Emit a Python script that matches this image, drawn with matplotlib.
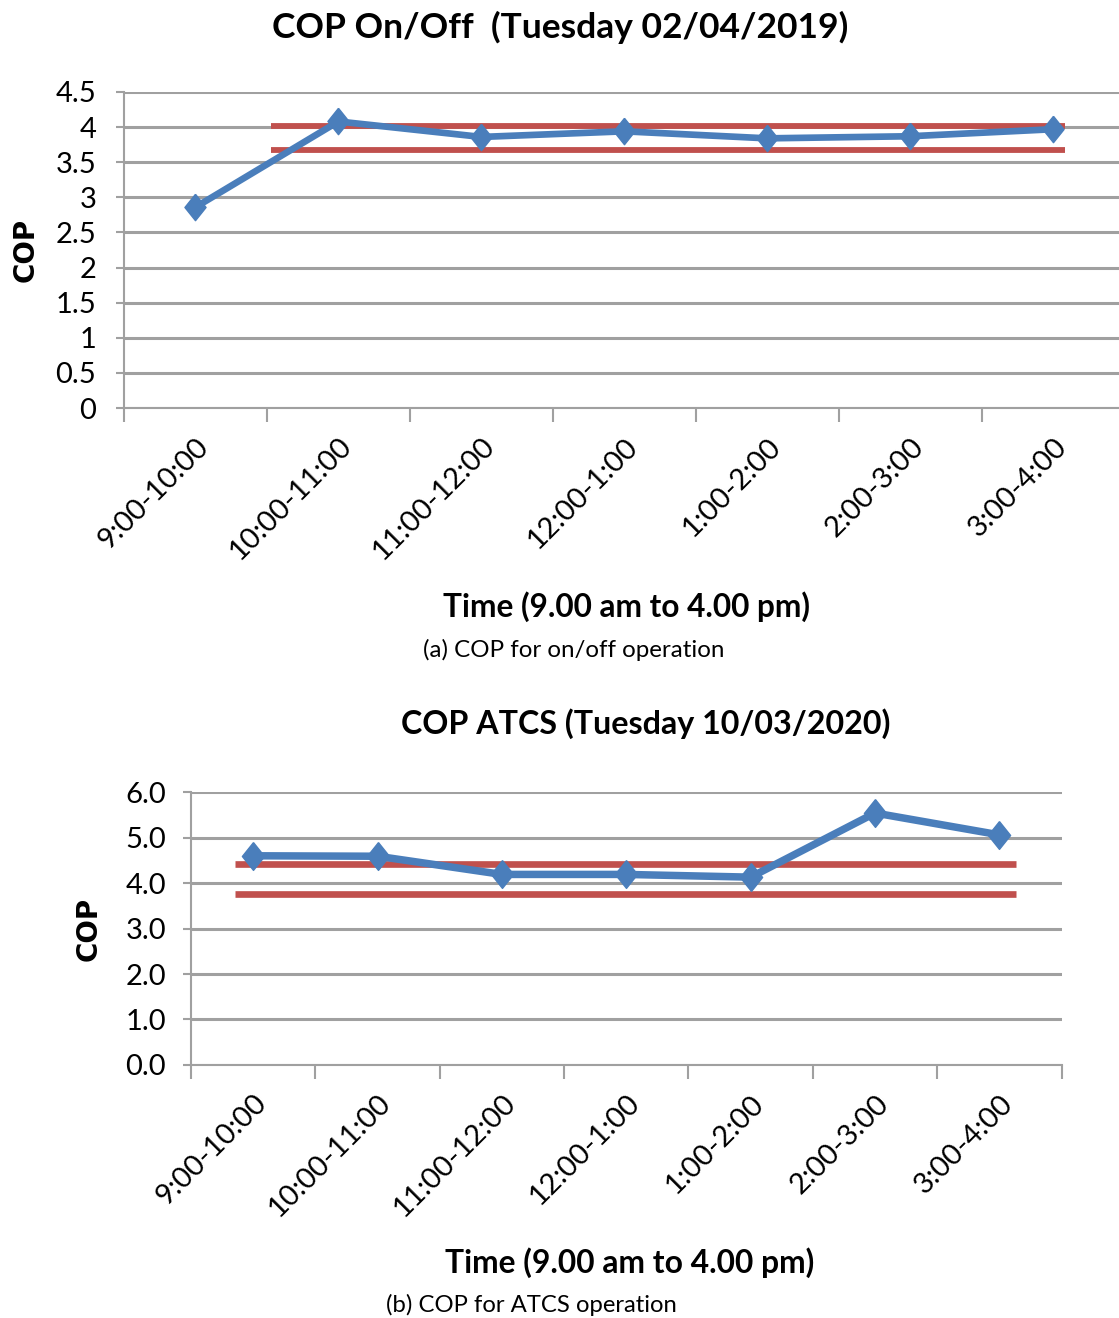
import matplotlib
matplotlib.use("Agg")
import matplotlib.pyplot as plt

# data
slots = ["9:00-10:00", "10:00-11:00", "11:00-12:00", "12:00-1:00",
         "1:00-2:00", "2:00-3:00", "3:00-4:00"]
cop_onoff = [2.86, 4.08, 3.86, 3.94, 3.84, 3.87, 3.97]
cop_atcs = [4.60, 4.59, 4.19, 4.19, 4.13, 5.54, 5.06]
onoff_limits = [4.02, 3.68]
atcs_limits = [4.43, 3.77]
onoff_span = [0.53, 6.08]
atcs_span = [-0.15, 6.13]

plt.rcParams["font.family"] = ["Lato", "DejaVu Sans"]

BLUE = "#4a7ebb"
RED = "#c0504d"
GRID = "#a0a0a0"
DIAMOND = [(0, 1), (0.8, 0), (0, -1), (-0.8, 0), (0, 1)]

fig = plt.figure(figsize=(11.19, 13.18), dpi=100)


def style_axes(ax, ymax, ystep, fmt, ysize, xsize, ypad):
    x = range(len(slots))
    ax.set_ylim(0, ymax)
    ticks = [i * ystep for i in range(int(round(ymax / ystep)) + 1)]
    ax.set_yticks(ticks)
    ax.set_yticklabels([fmt.format(t) for t in ticks], fontsize=ysize)
    ax.yaxis.grid(True, color=GRID, linewidth=2.2)
    ax.set_axisbelow(True)
    for s in ["top", "right"]:
        ax.spines[s].set_visible(False)
    for s in ["left", "bottom"]:
        ax.spines[s].set_color(GRID)
        ax.spines[s].set_linewidth(1.5)
    ax.tick_params(axis="y", length=6, color=GRID, width=1.5, pad=ypad)
    # category boundaries as major ticks, labels on minor ticks
    ax.set_xticks([i - 0.5 for i in range(len(slots) + 1)])
    ax.set_xticklabels([])
    ax.tick_params(axis="x", which="major", length=10, color=GRID, width=1.5)
    ax.set_xticks(list(x), minor=True)
    ax.set_xticklabels(slots, minor=True, rotation=45, ha="right",
                       rotation_mode="anchor", fontsize=xsize)
    ax.tick_params(axis="x", which="minor", length=0, pad=18)


# (a) on/off
ax1 = fig.add_axes([0.1108, 0.6904, 0.8892, 0.2398])
x = list(range(len(slots)))
for lv in onoff_limits:
    ax1.plot(onoff_span, [lv, lv], color=RED, linewidth=4.2, solid_capstyle="butt", zorder=2)
ax1.plot(x, cop_onoff, color=BLUE, linewidth=4.8, marker=DIAMOND, markersize=19,
         markerfacecolor=BLUE, markeredgecolor=BLUE, zorder=3)
style_axes(ax1, 4.5, 0.5, "{:g}", 21, 21, 14)
ax1.set_xlim(-0.5, 6.46)
ax1.set_ylabel("COP", fontsize=20, fontweight="bold", family="DejaVu Sans")
ax1.yaxis.set_label_coords(-0.0844, 0.5)
fig.text(0.5004, 0.979, "COP On/Off  (Tuesday 02/04/2019)", ha="center", va="center",
         fontsize=25.5, fontweight="bold")
fig.text(0.56, 0.540, "Time (9.00 am to 4.00 pm)", ha="center", va="center",
         fontsize=22.8, fontweight="bold")
fig.text(0.513, 0.507, "(a) COP for on/off operation", ha="center", va="center",
         fontsize=17.4)

# (b) ATCS
ax2 = fig.add_axes([0.1707, 0.192, 0.778, 0.207])
for lv in atcs_limits:
    ax2.plot(atcs_span, [lv, lv], color=RED, linewidth=4.8, solid_capstyle="butt", zorder=2)
ax2.plot(x, cop_atcs, color=BLUE, linewidth=5.4, marker=DIAMOND, markersize=20,
         markerfacecolor=BLUE, markeredgecolor=BLUE, zorder=3)
style_axes(ax2, 6.0, 1.0, "{:.1f}", 21, 21, 12)
ax2.set_xlim(-0.5, 6.5)
ax2.set_ylabel("COP", fontsize=20, fontweight="bold", family="DejaVu Sans")
ax2.yaxis.set_label_coords(-0.101, 0.5)
fig.text(0.577, 0.451, "COP ATCS (Tuesday 10/03/2020)", ha="center", va="center",
         fontsize=23.2, fontweight="bold")
fig.text(0.5626, 0.042, "Time (9.00 am to 4.00 pm)", ha="center", va="center",
         fontsize=22.9, fontweight="bold")
fig.text(0.475, 0.010, "(b) COP for ATCS operation", ha="center", va="center",
         fontsize=17.2)

fig.savefig("out.png", dpi=100)
